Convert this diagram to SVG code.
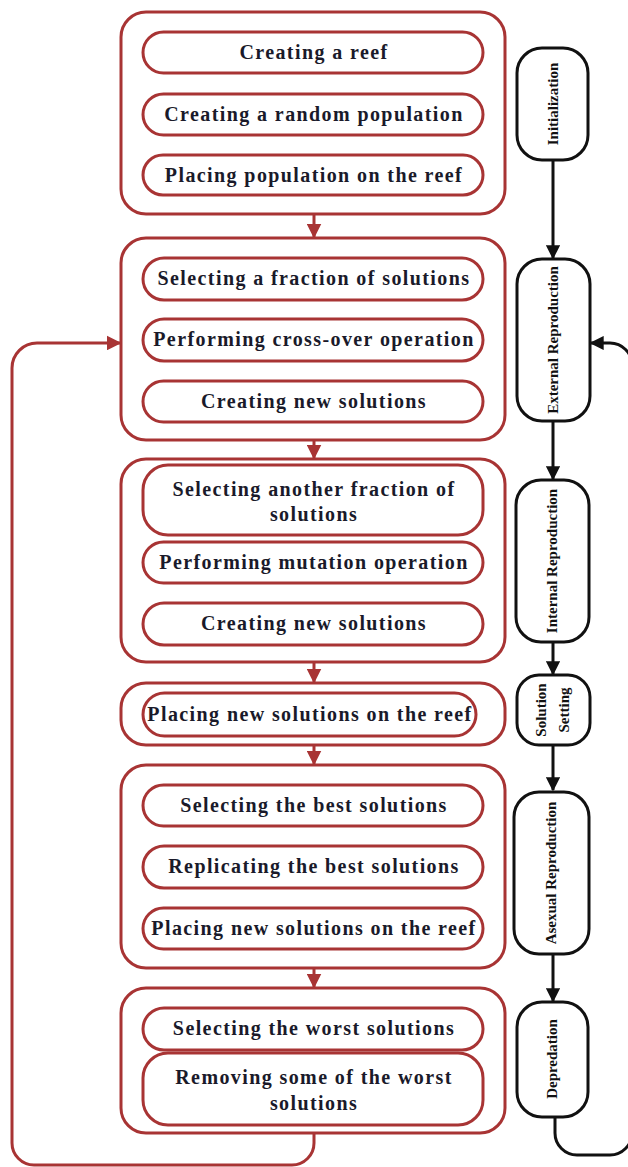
<svg xmlns="http://www.w3.org/2000/svg" width="628" height="1167" viewBox="0 0 628 1167">
<defs>
<style>
.ob{fill:#fff;stroke:#a83434;stroke-width:3}
.ib{fill:#fff;stroke:#a83434;stroke-width:3}
.bb{fill:#fff;stroke:#111;stroke-width:3}
.t{font-family:"Liberation Serif","Times New Roman",serif;font-weight:bold;font-size:20px;fill:#1a1a2a;text-anchor:middle;letter-spacing:1.4px}
.v{font-family:"Liberation Serif","Times New Roman",serif;font-weight:bold;font-size:15px;fill:#111;text-anchor:middle}
.rl{fill:none;stroke:#a83434;stroke-width:3}
.bl{fill:none;stroke:#111;stroke-width:3}
</style>
<marker id="ra" viewBox="0 0 10 10" refX="9" refY="5" markerWidth="5" markerHeight="5" orient="auto" markerUnits="strokeWidth"><path d="M0,0 L10,5 L0,10 z" fill="#a83434"/></marker>
<marker id="ba" viewBox="0 0 10 10" refX="9" refY="5" markerWidth="4.7" markerHeight="4.7" orient="auto" markerUnits="strokeWidth"><path d="M0,0 L10,5 L0,10 z" fill="#111"/></marker>
</defs>

<g id="connectors">
<path class="rl" d="M314,214 V237" marker-end="url(#ra)"/>
<path class="rl" d="M314,440 V458" marker-end="url(#ra)"/>
<path class="rl" d="M314,662 V682" marker-end="url(#ra)"/>
<path class="rl" d="M314,745 V764" marker-end="url(#ra)"/>
<path class="rl" d="M314,968 V987" marker-end="url(#ra)"/>
<path class="rl" d="M314,1133 V1143 A22,22 0 0 1 292,1165 H34 A22,22 0 0 1 12,1143 V368 A25,25 0 0 1 37,343 H120" marker-end="url(#ra)"/>
<path class="bl" d="M553,160 V258" marker-end="url(#ba)"/>
<path class="bl" d="M553,421 V479" marker-end="url(#ba)"/>
<path class="bl" d="M553,642 V674" marker-end="url(#ba)"/>
<path class="bl" d="M553,745 V790" marker-end="url(#ba)"/>
<path class="bl" d="M553,954 V1001" marker-end="url(#ba)"/>
<path class="bl" d="M555,1117 V1133 A22,22 0 0 0 577,1155 H610 A22,22 0 0 0 632,1133 V365 A22,22 0 0 0 610,343 H591" marker-end="url(#ba)"/>
</g>

<g id="stage1">
<rect class="ob" x="121" y="12" width="384" height="202" rx="25"/>
<g id="n1a"><rect class="ib" x="143" y="32" width="340" height="41" rx="20.5"/><text class="t" x="314" y="59">Creating a reef</text></g>
<g id="n1b"><rect class="ib" x="143" y="94" width="340" height="41" rx="20.5"/><text class="t" x="314" y="121">Creating a random population</text></g>
<g id="n1c"><rect class="ib" x="143" y="155" width="340" height="40" rx="20"/><text class="t" x="314" y="182">Placing population on the reef</text></g>
</g>

<g id="stage2">
<rect class="ob" x="121" y="238" width="384" height="202" rx="25"/>
<g id="n2a"><rect class="ib" x="143" y="258" width="340" height="42" rx="21"/><text class="t" x="314" y="285">Selecting a fraction of solutions</text></g>
<g id="n2b"><rect class="ib" x="143" y="319" width="340" height="42" rx="21"/><text class="t" x="314" y="346">Performing cross-over operation</text></g>
<g id="n2c"><rect class="ib" x="143" y="381" width="340" height="41" rx="20.5"/><text class="t" x="314" y="408">Creating new solutions</text></g>
</g>

<g id="stage3">
<rect class="ob" x="121" y="459" width="384" height="203" rx="25"/>
<g id="n3a"><rect class="ib" x="143" y="465" width="340" height="70" rx="25"/><text class="t" x="314" y="496">Selecting another fraction of</text><text class="t" x="314" y="521">solutions</text></g>
<g id="n3b"><rect class="ib" x="143" y="542" width="340" height="41" rx="20.5"/><text class="t" x="314" y="569">Performing mutation operation</text></g>
<g id="n3c"><rect class="ib" x="143" y="603" width="340" height="42" rx="21"/><text class="t" x="314" y="630">Creating new solutions</text></g>
</g>

<g id="stage4">
<rect class="ob" x="121" y="683" width="384" height="62" rx="25"/>
<g id="n4a"><rect class="ib" x="143" y="693" width="333" height="43" rx="21.5"/><text class="t" x="310" y="721">Placing new solutions on the reef</text></g>
</g>

<g id="stage5">
<rect class="ob" x="121" y="765" width="384" height="203" rx="25"/>
<g id="n5a"><rect class="ib" x="143" y="785" width="340" height="41" rx="20.5"/><text class="t" x="314" y="812">Selecting the best solutions</text></g>
<g id="n5b"><rect class="ib" x="143" y="846" width="340" height="42" rx="21"/><text class="t" x="314" y="873">Replicating the best solutions</text></g>
<g id="n5c"><rect class="ib" x="143" y="908" width="340" height="41" rx="20.5"/><text class="t" x="314" y="935">Placing new solutions on the reef</text></g>
</g>

<g id="stage6">
<rect class="ob" x="121" y="988" width="384" height="145" rx="25"/>
<g id="n6a"><rect class="ib" x="143" y="1008" width="340" height="42" rx="21"/><text class="t" x="314" y="1035">Selecting the worst solutions</text></g>
<g id="n6b"><rect class="ib" x="143" y="1053" width="340" height="72" rx="25"/><text class="t" x="314" y="1084">Removing some of the worst</text><text class="t" x="314" y="1110">solutions</text></g>
</g>

<g id="init"><rect class="bb" x="517" y="48" width="71" height="112" rx="25"/><text class="v" transform="translate(558,104) rotate(-90)">Initialization</text></g>
<g id="ext"><rect class="bb" x="517" y="259" width="73" height="162" rx="25"/><text class="v" transform="translate(558,340) rotate(-90)">External Reproduction</text></g>
<g id="int"><rect class="bb" x="516" y="480" width="73" height="162" rx="25"/><text class="v" transform="translate(557,561) rotate(-90)">Internal Reproduction</text></g>
<g id="sol"><rect class="bb" x="517" y="675" width="73" height="70" rx="22"/><text class="v" transform="translate(546,710) rotate(-90)">Solution</text><text class="v" transform="translate(569,710) rotate(-90)">Setting</text></g>
<g id="asex"><rect class="bb" x="514" y="792" width="75" height="162" rx="25"/><text class="v" transform="translate(556,873) rotate(-90)">Asexual Reproduction</text></g>
<g id="dep"><rect class="bb" x="517" y="1002" width="71" height="115" rx="25"/><text class="v" transform="translate(557,1059) rotate(-90)">Depredation</text></g>
</svg>
